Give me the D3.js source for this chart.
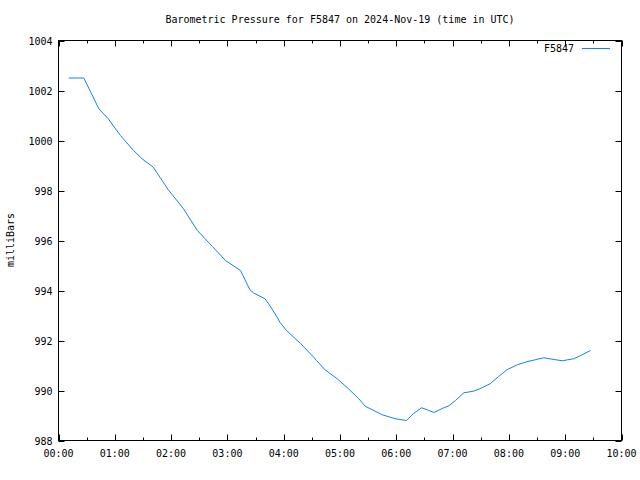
<!DOCTYPE html>
<html><head><meta charset="utf-8">
<script src="https://cdn.jsdelivr.net/npm/d3@7"></script>
<style>body{margin:0;background:#fff}svg{display:block}text{font-family:"DejaVu Sans Mono",monospace;font-size:10px;fill:#000}</style>
</head><body>
<script>
const title = "Barometric Pressure for F5847 on 2024-Nov-19 (time in UTC)";
const seriesName = "F5847";
const yLabel = "milliBars";
// minutes after 00:00 UTC
const times = [11,27,43,53,66,80,89,101,117,133,148,164,178,194,204,208,220,224,233,236,243,258,272,275,284,297,309,320,327,345,357,362,371,378,387,393,400,409,416,423,432,442,449,460,469,478,489,499,508,517,528,537,549,556,567];
const pressures = [1002.5,1002.5,1001.27,1000.87,1000.2,999.6,999.27,998.93,998.03,997.28,996.4,995.76,995.2,994.8,994.03,993.9,993.67,993.47,992.93,992.73,992.4,991.88,991.33,991.2,990.83,990.47,990.07,989.67,989.37,989.03,988.89,988.85,988.8,989.07,989.31,989.23,989.12,989.28,989.39,989.6,989.91,989.97,990.07,990.27,990.56,990.83,991.03,991.15,991.23,991.31,991.24,991.19,991.27,991.39,991.6];
const yTicks = [988,990,992,994,996,998,1000,1002,1004];
const xTickHours = [0,1,2,3,4,5,6,7,8,9,10];
const xTickLabels = ["00:00","01:00","02:00","03:00","04:00","05:00","06:00","07:00","08:00","09:00","10:00"];

const W=640,H=480, L=58.5, R=621.5, T=40.5, B=440.5;
const svg=d3.select("body").append("svg").attr("width",W).attr("height",H);
const x=d3.scaleLinear().domain([0,600]).range([L,R]);
const y=d3.scaleLinear().domain([988,1004]).range([B,T]);

// ticks (inward, mirrored)
const g=svg.append("g").attr("stroke","#000").attr("stroke-width",1);
yTicks.forEach(v=>{const yy=Math.round(y(v))+0.5;
  g.append("line").attr("x1",L).attr("x2",L+6).attr("y1",yy).attr("y2",yy);
  g.append("line").attr("x1",R).attr("x2",R-6).attr("y1",yy).attr("y2",yy);});
for(let h=0;h<=10;h+=0.5){const xx=Math.round(x(h*60))+0.5; const len=(h%1===0)?6:3;
  g.append("line").attr("x1",xx).attr("x2",xx).attr("y1",B).attr("y2",B-len);
  g.append("line").attr("x1",xx).attr("x2",xx).attr("y1",T).attr("y2",T+len);}
svg.append("rect").attr("x",L).attr("y",T).attr("width",R-L).attr("height",B-T).attr("fill","none").attr("stroke","#000");

// labels
yTicks.forEach(v=>svg.append("text").attr("x",L-6).attr("y",y(v)+4).attr("text-anchor","end").text(v));
xTickHours.forEach((h,i)=>svg.append("text").attr("x",x(h*60)).attr("y",B+16).attr("text-anchor","middle").text(xTickLabels[i]));
svg.append("text").attr("x",340).attr("y",23).attr("text-anchor","middle").text(title);
svg.append("text").attr("transform","translate(14,240) rotate(-90)").attr("text-anchor","middle").text(yLabel);

// line
const data=times.map((t,i)=>({t,v:pressures[i]}));
svg.append("path").datum(data).attr("fill","none").attr("stroke","#1580f0").attr("stroke-width",1)
  .attr("d",d3.line().x(d=>x(d.t)).y(d=>y(d.v)));

// legend
svg.append("text").attr("x",574).attr("y",52).attr("text-anchor","end").text(seriesName);
svg.append("line").attr("x1",582).attr("x2",610).attr("y1",48.5).attr("y2",48.5).attr("stroke","#1580f0");
</script>
</body></html>
